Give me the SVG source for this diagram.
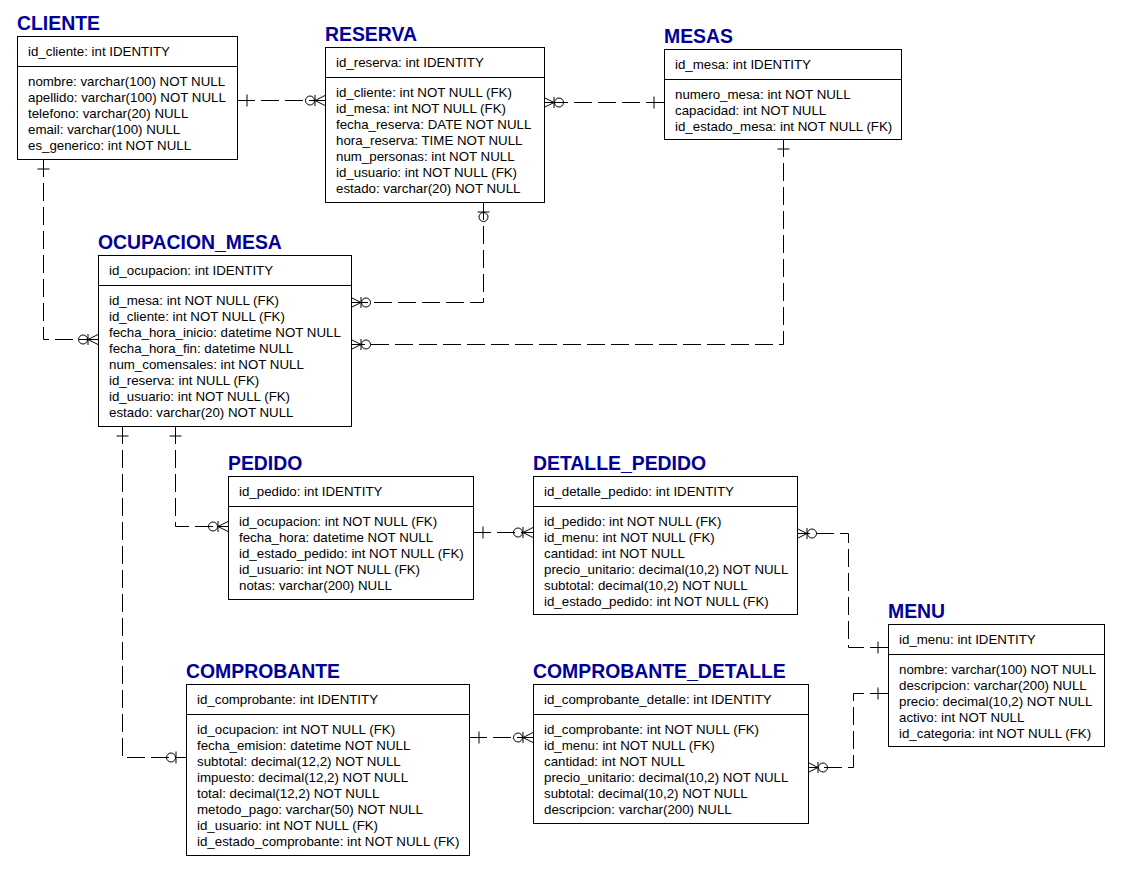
<svg xmlns="http://www.w3.org/2000/svg" width="1123" height="874" viewBox="0 0 1123 874">
<style>
.bg{fill:#fff}
.box{fill:#fff;stroke:#000;stroke-width:1}
.div{stroke:#000;stroke-width:1}
.title{font-family:"Liberation Sans",Arial,sans-serif;font-size:19.4px;font-weight:bold;fill:#000099}
.t{font-family:"Liberation Sans",Arial,sans-serif;font-size:13.3px;fill:#000}
.rel{fill:none;stroke:#000;stroke-width:1;stroke-dasharray:18 6}
.mk{fill:none;stroke:#000;stroke-width:1}
</style>
<defs>
<marker id="one" markerUnits="userSpaceOnUse" orient="auto-start-reverse" viewBox="-30 -10 40 20" refX="0" refY="0" markerWidth="40" markerHeight="20" overflow="visible">
<path class="mk" d="M-10,-6V6M-10,0H0"/>
</marker>
<marker id="zeroMany" markerUnits="userSpaceOnUse" orient="auto-start-reverse" viewBox="-30 -10 40 20" refX="0" refY="0" markerWidth="40" markerHeight="20" overflow="visible">
<path class="mk" d="M-10,-5.5V5.5M0,-5L-10,0L0,5M-10,0H0"/>
<circle class="mk" cx="-15" cy="0" r="4.5"/>
</marker>
<marker id="zeroOne" markerUnits="userSpaceOnUse" orient="auto-start-reverse" viewBox="-30 -10 40 20" refX="0" refY="0" markerWidth="40" markerHeight="20" overflow="visible">
<path class="mk" d="M-10,-6V6M-10,0H0"/>
<circle class="mk" cx="-15" cy="0" r="4.5"/>
</marker>
</defs>
<rect class="bg" x="0" y="0" width="1123" height="874"/>

<g id="connectors">
<path class="rel" d="M237,100.5H325" marker-start="url(#one)" marker-end="url(#zeroMany)"/>
<path class="rel" d="M664,102.5H544" marker-start="url(#one)" marker-end="url(#zeroMany)"/>
<path class="rel" d="M483.5,202V302.5H351" marker-start="url(#zeroOne)" marker-end="url(#zeroMany)"/>
<path class="rel" d="M783.5,139V344.5H351" marker-start="url(#one)" marker-end="url(#zeroMany)"/>
<path class="rel" d="M43.5,159V339.5H98" marker-start="url(#one)" marker-end="url(#zeroMany)"/>
<path class="rel" d="M175.5,426V526.5H228" marker-start="url(#one)" marker-end="url(#zeroMany)"/>
<path class="rel" d="M122.5,426V757.5H186" marker-start="url(#one)" marker-end="url(#zeroOne)"/>
<path class="rel" d="M473,532.5H533" marker-start="url(#one)" marker-end="url(#zeroMany)"/>
<path class="rel" d="M888,647.5H848.5V533.5H797" marker-start="url(#one)" marker-end="url(#zeroMany)"/>
<path class="rel" d="M469,737.5H533" marker-start="url(#one)" marker-end="url(#zeroMany)"/>
<path class="rel" d="M888,693.5H853.5V767.5H808" marker-start="url(#one)" marker-end="url(#zeroMany)"/>
</g>

<g id="CLIENTE">
<text class="title" x="17" y="30">CLIENTE</text>
<rect class="box" x="17.5" y="36.5" width="220" height="123"/>
<line class="div" x1="17.5" y1="66.5" x2="237.5" y2="66.5"/>
<text class="t" x="28" y="56">id_cliente: int IDENTITY</text>
<text class="t" x="28" y="86">nombre: varchar(100) NOT NULL</text>
<text class="t" x="28" y="102">apellido: varchar(100) NOT NULL</text>
<text class="t" x="28" y="118">telefono: varchar(20) NULL</text>
<text class="t" x="28" y="134">email: varchar(100) NULL</text>
<text class="t" x="28" y="150">es_generico: int NOT NULL</text>
</g>

<g id="RESERVA">
<text class="title" x="325" y="41">RESERVA</text>
<rect class="box" x="325.5" y="47.5" width="219" height="155"/>
<line class="div" x1="325.5" y1="77.5" x2="544.5" y2="77.5"/>
<text class="t" x="336" y="67">id_reserva: int IDENTITY</text>
<text class="t" x="336" y="97">id_cliente: int NOT NULL (FK)</text>
<text class="t" x="336" y="113">id_mesa: int NOT NULL (FK)</text>
<text class="t" x="336" y="129">fecha_reserva: DATE NOT NULL</text>
<text class="t" x="336" y="145">hora_reserva: TIME NOT NULL</text>
<text class="t" x="336" y="161">num_personas: int NOT NULL</text>
<text class="t" x="336" y="177">id_usuario: int NOT NULL (FK)</text>
<text class="t" x="336" y="193">estado: varchar(20) NOT NULL</text>
</g>

<g id="MESAS">
<text class="title" x="664" y="43">MESAS</text>
<rect class="box" x="664.5" y="49.5" width="237" height="90"/>
<line class="div" x1="664.5" y1="79.5" x2="901.5" y2="79.5"/>
<text class="t" x="675" y="69">id_mesa: int IDENTITY</text>
<text class="t" x="675" y="99">numero_mesa: int NOT NULL</text>
<text class="t" x="675" y="115">capacidad: int NOT NULL</text>
<text class="t" x="675" y="131">id_estado_mesa: int NOT NULL (FK)</text>
</g>

<g id="OCUPACION_MESA">
<text class="title" x="98" y="249">OCUPACION_MESA</text>
<rect class="box" x="98.5" y="255.5" width="253" height="171"/>
<line class="div" x1="98.5" y1="285.5" x2="351.5" y2="285.5"/>
<text class="t" x="109" y="275">id_ocupacion: int IDENTITY</text>
<text class="t" x="109" y="305">id_mesa: int NOT NULL (FK)</text>
<text class="t" x="109" y="321">id_cliente: int NOT NULL (FK)</text>
<text class="t" x="109" y="337">fecha_hora_inicio: datetime NOT NULL</text>
<text class="t" x="109" y="353">fecha_hora_fin: datetime NULL</text>
<text class="t" x="109" y="369">num_comensales: int NOT NULL</text>
<text class="t" x="109" y="385">id_reserva: int NULL (FK)</text>
<text class="t" x="109" y="401">id_usuario: int NOT NULL (FK)</text>
<text class="t" x="109" y="417">estado: varchar(20) NOT NULL</text>
</g>

<g id="PEDIDO">
<text class="title" x="228" y="470">PEDIDO</text>
<rect class="box" x="228.5" y="476.5" width="245" height="123"/>
<line class="div" x1="228.5" y1="506.5" x2="473.5" y2="506.5"/>
<text class="t" x="239" y="496">id_pedido: int IDENTITY</text>
<text class="t" x="239" y="526">id_ocupacion: int NOT NULL (FK)</text>
<text class="t" x="239" y="542">fecha_hora: datetime NOT NULL</text>
<text class="t" x="239" y="558">id_estado_pedido: int NOT NULL (FK)</text>
<text class="t" x="239" y="574">id_usuario: int NOT NULL (FK)</text>
<text class="t" x="239" y="590">notas: varchar(200) NULL</text>
</g>

<g id="DETALLE_PEDIDO">
<text class="title" x="533" y="470">DETALLE_PEDIDO</text>
<rect class="box" x="533.5" y="476.5" width="264" height="138"/>
<line class="div" x1="533.5" y1="506.5" x2="797.5" y2="506.5"/>
<text class="t" x="544" y="496">id_detalle_pedido: int IDENTITY</text>
<text class="t" x="544" y="526">id_pedido: int NOT NULL (FK)</text>
<text class="t" x="544" y="542">id_menu: int NOT NULL (FK)</text>
<text class="t" x="544" y="558">cantidad: int NOT NULL</text>
<text class="t" x="544" y="574">precio_unitario: decimal(10,2) NOT NULL</text>
<text class="t" x="544" y="590">subtotal: decimal(10,2) NOT NULL</text>
<text class="t" x="544" y="606">id_estado_pedido: int NOT NULL (FK)</text>
</g>

<g id="MENU">
<text class="title" x="888" y="618">MENU</text>
<rect class="box" x="888.5" y="624.5" width="216" height="122"/>
<line class="div" x1="888.5" y1="654.5" x2="1104.5" y2="654.5"/>
<text class="t" x="899" y="644">id_menu: int IDENTITY</text>
<text class="t" x="899" y="674">nombre: varchar(100) NOT NULL</text>
<text class="t" x="899" y="690">descripcion: varchar(200) NULL</text>
<text class="t" x="899" y="706">precio: decimal(10,2) NOT NULL</text>
<text class="t" x="899" y="722">activo: int NOT NULL</text>
<text class="t" x="899" y="738">id_categoria: int NOT NULL (FK)</text>
</g>

<g id="COMPROBANTE">
<text class="title" x="186" y="678">COMPROBANTE</text>
<rect class="box" x="186.5" y="684.5" width="283" height="171"/>
<line class="div" x1="186.5" y1="714.5" x2="469.5" y2="714.5"/>
<text class="t" x="197" y="704">id_comprobante: int IDENTITY</text>
<text class="t" x="197" y="734">id_ocupacion: int NOT NULL (FK)</text>
<text class="t" x="197" y="750">fecha_emision: datetime NOT NULL</text>
<text class="t" x="197" y="766">subtotal: decimal(12,2) NOT NULL</text>
<text class="t" x="197" y="782">impuesto: decimal(12,2) NOT NULL</text>
<text class="t" x="197" y="798">total: decimal(12,2) NOT NULL</text>
<text class="t" x="197" y="814">metodo_pago: varchar(50) NOT NULL</text>
<text class="t" x="197" y="830">id_usuario: int NOT NULL (FK)</text>
<text class="t" x="197" y="846">id_estado_comprobante: int NOT NULL (FK)</text>
</g>

<g id="COMPROBANTE_DETALLE">
<text class="title" x="533" y="678">COMPROBANTE_DETALLE</text>
<rect class="box" x="533.5" y="684.5" width="275" height="139"/>
<line class="div" x1="533.5" y1="714.5" x2="808.5" y2="714.5"/>
<text class="t" x="544" y="704">id_comprobante_detalle: int IDENTITY</text>
<text class="t" x="544" y="734">id_comprobante: int NOT NULL (FK)</text>
<text class="t" x="544" y="750">id_menu: int NOT NULL (FK)</text>
<text class="t" x="544" y="766">cantidad: int NOT NULL</text>
<text class="t" x="544" y="782">precio_unitario: decimal(10,2) NOT NULL</text>
<text class="t" x="544" y="798">subtotal: decimal(10,2) NOT NULL</text>
<text class="t" x="544" y="814">descripcion: varchar(200) NULL</text>
</g>
</svg>
